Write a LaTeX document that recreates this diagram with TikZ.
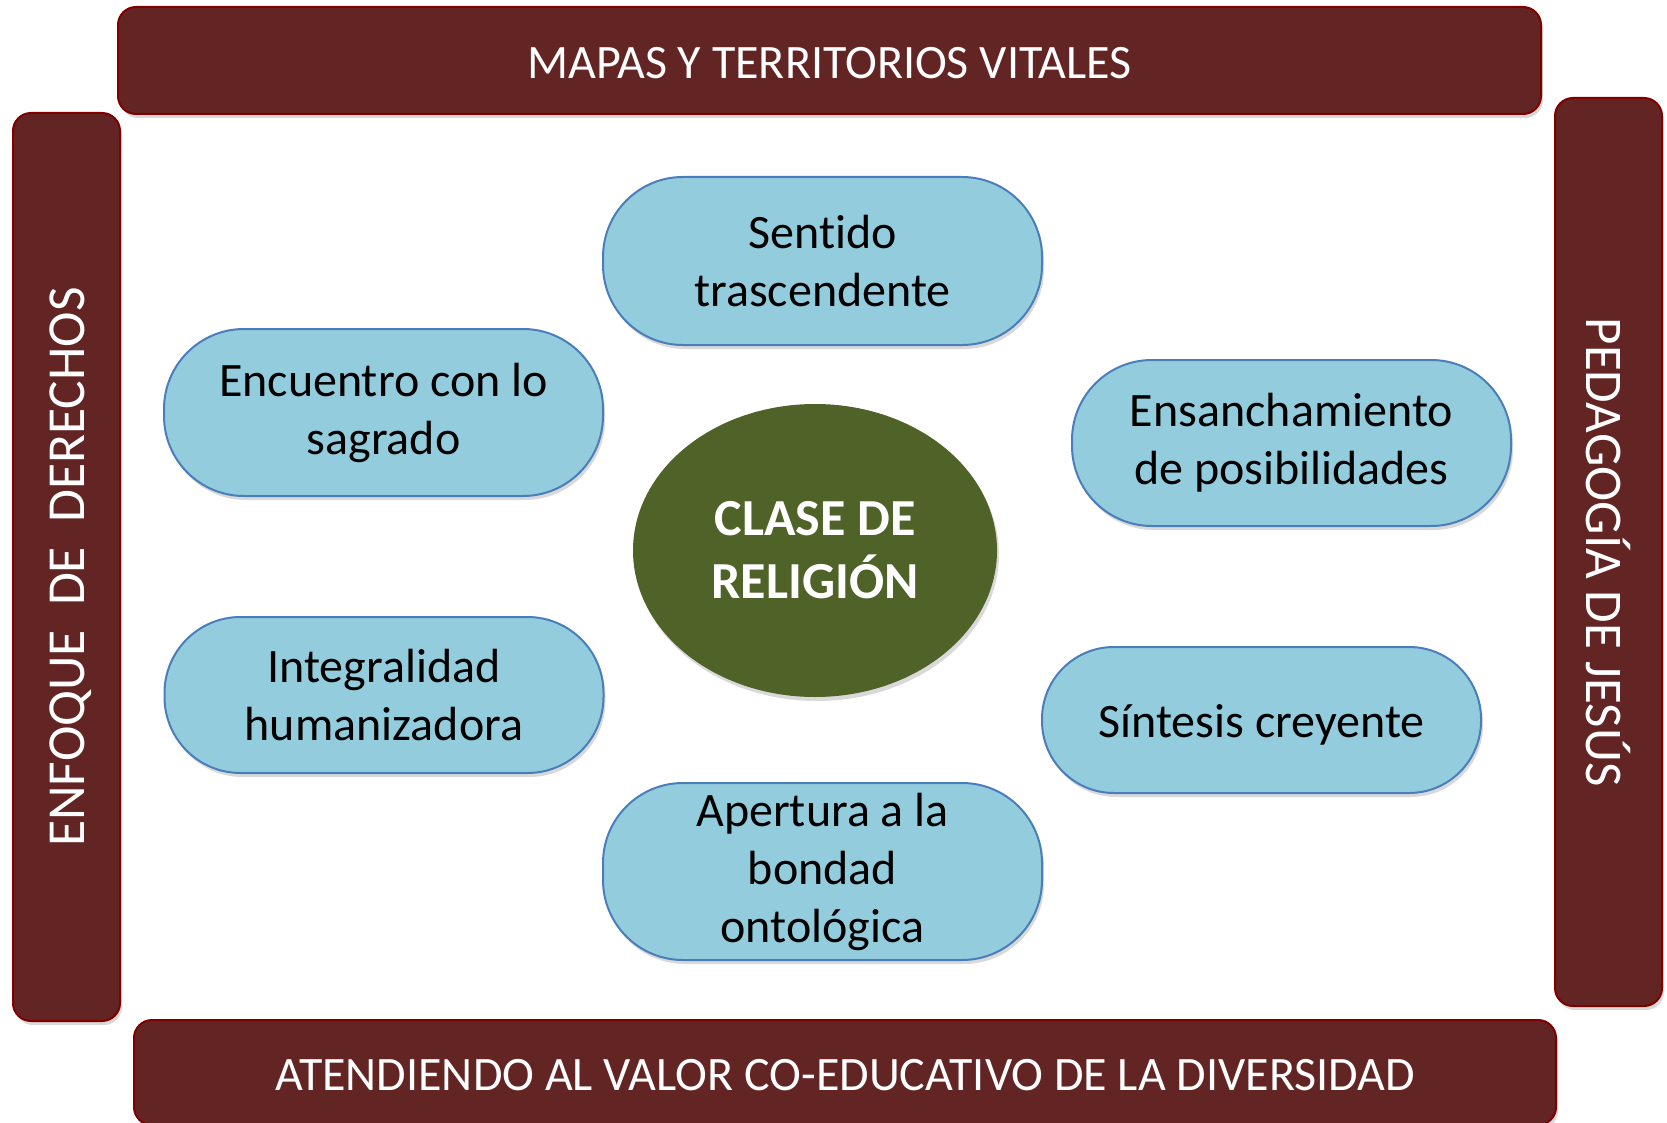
\documentclass[tikz,border=0pt]{standalone}
\usepackage{fontspec}
\setmainfont{Carlito}[Ligatures=NoCommon]
\usepackage{tikz}
\usetikzlibrary{shapes.geometric}
\usetikzlibrary{shadows}
\definecolor{wwqqqq}{HTML}{632523}
\definecolor{ccqqqq}{HTML}{800000}
\definecolor{aaccdd}{HTML}{93CDDD}
\definecolor{uuaabb}{HTML}{4A7EBB}
\definecolor{ttttqq}{HTML}{4F6228}
\tikzstyle{every node}=[font=\fontsize{48}{58}\selectfont]
\tikzstyle{sombra}=[drop shadow={opacity=0.3,shadow xshift=2pt,shadow yshift=-4pt}]
\tikzstyle{barra}=[draw=ccqqqq,line width=2pt,fill=wwqqqq,rounded corners=18pt,text=white,inner sep=0pt,sombra,execute at begin node={\rule{0pt}{36pt}}]
\tikzstyle{pildora}=[draw=uuaabb,line width=2pt,fill=aaccdd,rounded corners=80pt,align=center,inner sep=0pt,minimum width=439pt,sombra,execute at begin node={\rule{0pt}{42pt}}]

\begin{document}
\begin{tikzpicture}[line cap=round,line join=round,x=1pt,y=-1pt]
            \useasboundingbox (0,0) rectangle (1667,1123);
            \node[barra,minimum width=1423pt,minimum height=107pt] (mapas) at (829.5,60.5) {MAPAS Y TERRITORIOS VITALES};
            \node[barra,rotate=90,minimum width=908pt,minimum height=107pt,font=\fontsize{53.5}{64}\selectfont,execute at begin node={\rule{0pt}{43pt}}] (enfoque) at (66.5,567) {ENFOQUE \ DE \ DERECHOS};
            \node[barra,rotate=-90,minimum width=908pt,minimum height=107pt,font=\fontsize{53}{64}\selectfont] (pedagogia) at (1608.5,552) {PEDAGOGÍA DE JESÚS};
            \node[barra,minimum width=1422pt,minimum height=105pt] (diversidad) at (845,1072.5) {ATENDIENDO AL VALOR CO-EDUCATIVO DE LA DIVERSIDAD};
            \node[pildora,minimum height=168pt] (sentido) at (822.5,261) {Sentido\\trascendente};
            \node[pildora,minimum height=167pt] (encuentro) at (383.5,412.5) {Encuentro con lo\\sagrado};
            \node[pildora,minimum height=166pt] (ensanchamiento) at (1291.5,443) {Ensanchamiento\\de posibilidades};
            \node[pildora,minimum height=156pt,rounded corners=76pt] (integralidad) at (384,695) {Integralidad\\humanizadora};
            \node[pildora,minimum height=146pt,rounded corners=72pt] (sintesis) at (1261.5,720) {Síntesis creyente};
            \node[pildora,minimum height=177pt] (apertura) at (822.5,871.5) {Apertura a la\\bondad\\ontológica};
            \node[ellipse,fill=ttttqq,sombra,minimum width=364pt,minimum height=293pt,inner sep=0pt,text=white,align=center,font=\bfseries\fontsize{52}{63}\selectfont] (clase) at (815,550.5) {CLASE DE\\RELIGIÓN};
\end{tikzpicture}
\end{document}
